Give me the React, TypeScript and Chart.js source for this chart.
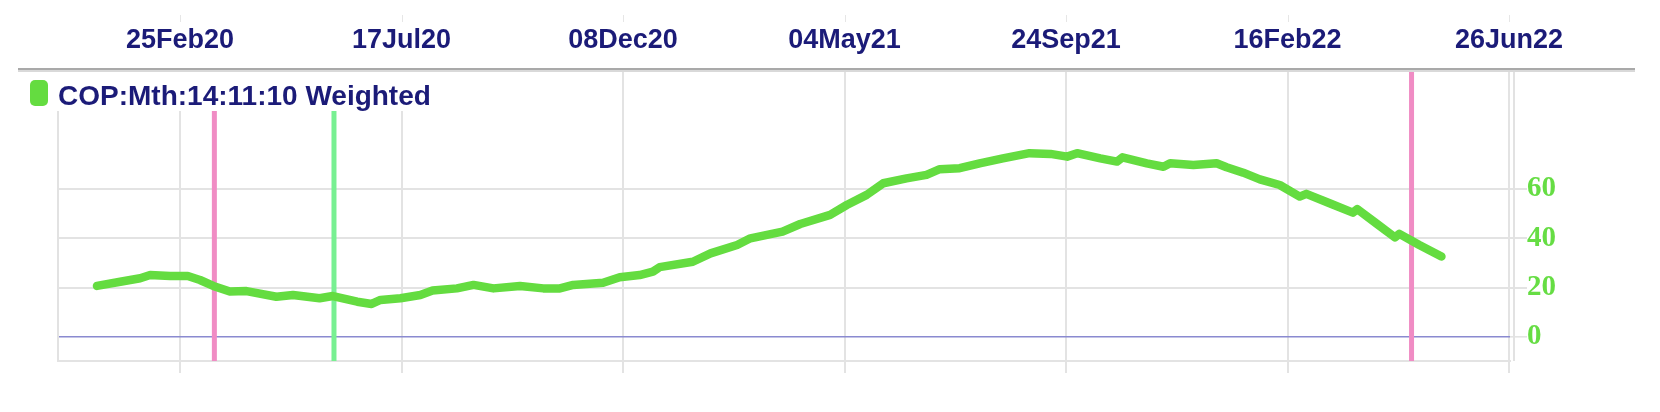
import React, { useEffect, useRef } from "react";
import { Chart, registerables } from "chart.js";

Chart.register(...registerables);

// ---- data ----
const dateLabels = ["25Feb20", "17Jul20", "08Dec20", "04May21", "24Sep21", "16Feb22", "26Jun22"];
const tickWeeks = [0, 20, 40, 60, 80, 100, 120];
const yTickValues = [0, 20, 40, 60];
const seriesLabel = "COP:Mth:14:11:10 Weighted";

const weeks = [
  -7.5, -5.4, -3.6, -2.7, -0.9, 0.7, 1.8, 3.0, 4.5, 6.0, 8.7, 10.2, 12.6, 13.8, 16.0, 17.3, 18.1, 19.9,
  21.7, 22.8, 25.0, 26.5, 28.3, 30.7, 32.8, 34.3, 35.5, 38.2, 39.7, 41.5, 42.7, 43.3, 46.3, 47.9, 50.3,
  51.5, 54.4, 56.0, 58.7, 60.2, 62.0, 63.5, 65.6, 67.4, 68.6, 70.4, 72.2, 74.3, 76.7, 78.6, 80.1, 81.0,
  83.1, 84.6, 85.1, 87.3, 88.8, 89.4, 91.5, 93.6, 94.5, 96.0, 97.5, 99.3, 101.1, 101.7, 103.8, 105.9,
  106.3, 108.0, 109.7, 110.1, 111.9, 113.9,
];
const copWeighted = [
  20.7, 22.4, 23.8, 25.1, 24.7, 24.7, 23.1, 20.7, 18.4, 18.6, 16.3, 17.0, 15.7, 16.6, 14.3, 13.4, 15.0, 15.7,
  17.0, 18.8, 19.7, 21.1, 19.7, 20.7, 19.7, 19.7, 21.1, 22.0, 24.2, 25.1, 26.5, 28.3, 30.5, 33.9, 37.3,
  40.0, 42.7, 45.8, 49.5, 53.5, 57.6, 62.3, 64.3, 65.7, 68.0, 68.4, 70.4, 72.4, 74.5, 74.2, 73.1, 74.5,
  72.4, 71.1, 72.8, 70.4, 69.0, 70.4, 69.7, 70.4, 68.8, 66.6, 63.9, 61.6, 56.9, 58.0, 54.2, 50.4,
  51.8, 46.1, 40.4, 41.8, 37.3, 32.6,
];
const pinkMarkerWeeks = [3.1, 111.2];
const greenMarkerWeeks = [13.9];

const X_MIN = -11.02;
const X_MAX = 120.09;
const Y_MIN = -9.73;
const Y_MAX = 107.4;

const NAVY = "#1b1b78";
const LINE_GREEN = "#64dc40";

const framePlugin = {
  id: "frame",
  beforeDraw(chart: any) {
    const { ctx } = chart;
    ctx.save();
    ctx.fillStyle = "#ffffff";
    ctx.fillRect(0, 0, chart.width, chart.height);
    ctx.restore();
  },
  afterDraw(chart: any) {
    const { ctx, chartArea } = chart;
    const xs = chart.scales.x;
    ctx.save();
    // header rule
    ctx.fillStyle = "#a9a9a9";
    ctx.fillRect(18, 68, 1617, 2);
    ctx.fillStyle = "#d9d9d9";
    ctx.fillRect(18, 70, 1617, 2);
    // small tick marks above top labels
    ctx.strokeStyle = "#e6e6e6";
    ctx.lineWidth = 1;
    xs.ticks.forEach((t: any) => {
      const px = Math.round(xs.getPixelForValue(t.value)) + 0.5;
      ctx.beginPath();
      ctx.moveTo(px, 15);
      ctx.lineTo(px, 22);
      ctx.stroke();
    });
    // frame sides
    ctx.strokeStyle = "#e2e2e2";
    ctx.lineWidth = 2;
    ctx.beginPath();
    ctx.moveTo(chartArea.left, chartArea.top);
    ctx.lineTo(chartArea.left, chartArea.bottom);
    ctx.stroke();
    ctx.beginPath();
    ctx.moveTo(chartArea.right + 4, chartArea.top);
    ctx.lineTo(chartArea.right + 4, chartArea.bottom);
    ctx.stroke();
    ctx.restore();
  },
};

export default function App() {
  const canvasRef = useRef<HTMLCanvasElement | null>(null);

  useEffect(() => {
    const canvas = canvasRef.current;
    if (!canvas) return;

    const mainData = weeks.map((w, i) => ({ x: w, y: copWeighted[i] }));
    const markerSet = (w: number, color: string) => ({
      label: "marker",
      data: [
        { x: w, y: Y_MIN },
        { x: w, y: Y_MAX },
      ],
      borderColor: color,
      borderWidth: 5,
      pointRadius: 0,
      fill: false,
    });

    const chart = new Chart(canvas, {
      type: "line",
      data: {
        datasets: [
          {
            label: seriesLabel,
            data: mainData,
            borderColor: LINE_GREEN,
            borderWidth: 8.5,
            pointRadius: 0,
            tension: 0,
            borderCapStyle: "round",
            borderJoinStyle: "round",
            fill: false,
          },
          ...pinkMarkerWeeks.map((w) => markerSet(w, "#f08cc4")),
          ...greenMarkerWeeks.map((w) => markerSet(w, "#78f092")),
        ] as any,
      },
      options: {
        responsive: false,
        animation: false,
        devicePixelRatio: 1,
        layout: { padding: { left: 58, right: 0, top: 0, bottom: 0 } },
        plugins: {
          legend: { display: false },
          tooltip: { enabled: false },
        },
        scales: {
          x: {
            type: "linear",
            position: "top",
            min: X_MIN,
            max: X_MAX,
            afterBuildTicks: (s: any) => {
              s.ticks = tickWeeks.map((v) => ({ value: v }));
            },
            afterFit: (s: any) => {
              s.height = 72;
            },
            ticks: {
              autoSkip: false,
              maxRotation: 0,
              padding: 15,
              color: NAVY,
              font: { family: "'Liberation Sans', Arial, sans-serif", size: 27, weight: "bold" },
              callback: (v: any) => {
                const i = tickWeeks.indexOf(Number(v));
                return i >= 0 ? dateLabels[i] : "";
              },
            },
            grid: {
              drawOnChartArea: true,
              drawTicks: false,
              color: "#e3e3e3",
              lineWidth: 2,
            },
            border: { display: false },
          },
          x2: {
            type: "linear",
            position: "bottom",
            min: X_MIN,
            max: X_MAX,
            afterBuildTicks: (s: any) => {
              s.ticks = tickWeeks.map((v) => ({ value: v }));
            },
            afterFit: (s: any) => {
              s.height = 51;
            },
            ticks: { display: false },
            grid: {
              drawOnChartArea: false,
              drawTicks: true,
              tickLength: 12,
              tickColor: "#e3e3e3",
              lineWidth: 2,
            },
            border: { display: true, color: "#e3e3e3", width: 2 },
          },
          y: {
            type: "linear",
            position: "right",
            min: Y_MIN,
            max: Y_MAX,
            afterBuildTicks: (s: any) => {
              s.ticks = yTickValues.map((v) => ({ value: v }));
            },
            afterFit: (s: any) => {
              s.width = 150;
            },
            ticks: {
              padding: 0,
              color: "#66dd44",
              font: { family: "'Liberation Serif', 'Times New Roman', serif", size: 29, weight: "bold" },
              callback: (v: any) => String(v),
            },
            grid: {
              color: (c: any) => (c.tick && c.tick.value === 0 ? "#8a8ad0" : "#e3e3e3"),
              lineWidth: (c: any) => (c.tick && c.tick.value === 0 ? 1.6 : 2),
              tickLength: 17,
              tickColor: "#e3e3e3",
            },
            border: { display: false },
          },
        },
      } as any,
      plugins: [framePlugin],
    });

    return () => {
      chart.destroy();
    };
  }, []);

  return (
    <div style={{ position: "absolute", left: 0, top: 0, width: 1660, height: 412, background: "#fff" }}>
      <canvas ref={canvasRef} width={1660} height={412} style={{ display: "block" }} />
      <div
        style={{
          position: "absolute",
          left: 18,
          top: 72,
          width: 411,
          height: 39,
          background: "#fff",
        }}
      >
        <span
          style={{
            position: "absolute",
            left: 12,
            top: 8,
            width: 18,
            height: 26,
            borderRadius: 5,
            background: LINE_GREEN,
          }}
        />
        <span
          style={{
            position: "absolute",
            left: 40,
            top: 10,
            font: "bold 28px 'Liberation Sans', Arial, sans-serif",
            lineHeight: "28px",
            color: NAVY,
            whiteSpace: "nowrap",
          }}
        >
          {seriesLabel}
        </span>
      </div>
    </div>
  );
}
